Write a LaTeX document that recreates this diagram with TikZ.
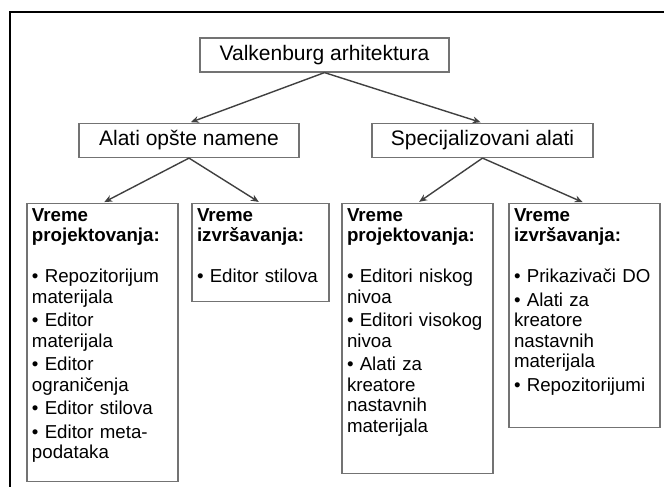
\documentclass[tikz,border=0pt]{standalone}
\usepackage{fontspec}
\setmainfont{Liberation Sans}
\usetikzlibrary{arrows.meta}

\begin{document}
\begin{tikzpicture}[x=0.5pt, y=-0.5pt,
    level/.style={draw=black!55, line width=0.6pt, inner sep=0pt, minimum height=17pt, font=\fontsize{10.5}{12}\selectfont},
    listbox/.style={draw=black!55, line width=0.6pt, anchor=north, align=left, inner xsep=2.5pt, inner ysep=2pt, text height=6.85pt, font=\fontsize{9.35}{10.25}\selectfont},
    link/.style={draw=black!75, line width=0.7pt, shorten >=1pt, -{Stealth[length=4pt,width=3.4pt]}}]

    \useasboundingbox (0,0) rectangle (664,487);
    \draw[line width=1pt] (664,12) -- (10,12) -- (10,487);

    \node[level, minimum width=124.5pt] (arch) at (324.5,55) {Valkenburg arhitektura};
    \node[level, minimum width=110pt] (gen) at (189,140.5) {Alati opšte namene};
    \node[level, minimum width=110.5pt] (spec) at (482.5,140.5) {Specijalizovani alati};

    \node[listbox, text width=70.5pt, text depth=128.15pt] (genD) at (102.5,203)
        {\textbf{Vreme}\\\textbf{projektovanja:}\\[10.25pt]
         • Repozitorijum\\materijala\\[1.5pt]
         • Editor\\materijala\\[1.5pt]
         • Editor\\ograničenja\\[1.5pt]
         • Editor stilova\\[1.5pt]
         • Editor meta-\\podataka};
    \node[listbox, text width=63.5pt, text depth=38.15pt] (genR) at (260.5,203)
        {\textbf{Vreme}\\\textbf{izvršavanja:}\\[10.25pt]
         • Editor stilova};
    \node[listbox, text width=70.5pt, text depth=124.15pt] (specD) at (417.5,203)
        {\textbf{Vreme}\\\textbf{projektovanja:}\\[10.25pt]
         • Editori niskog\\nivoa\\[1.5pt]
         • Editori visokog\\nivoa\\[1.5pt]
         • Alati za\\kreatore\\nastavnih\\materijala};
    \node[listbox, text width=70.5pt, text depth=101.15pt] (specR) at (584.5,203)
        {\textbf{Vreme}\\\textbf{izvršavanja:}\\[10.25pt]
         • Prikazivači DO\\[1.5pt]
         • Alati za\\kreatore\\nastavnih\\materijala\\[1.5pt]
         • Repozitorijumi};

    \foreach \a/\b in {arch/gen, arch/spec, gen/genD, gen/genR, spec/specD, spec/specR}
        \draw[link] (\a.south) -- (\b.north);
\end{tikzpicture}
\end{document}
